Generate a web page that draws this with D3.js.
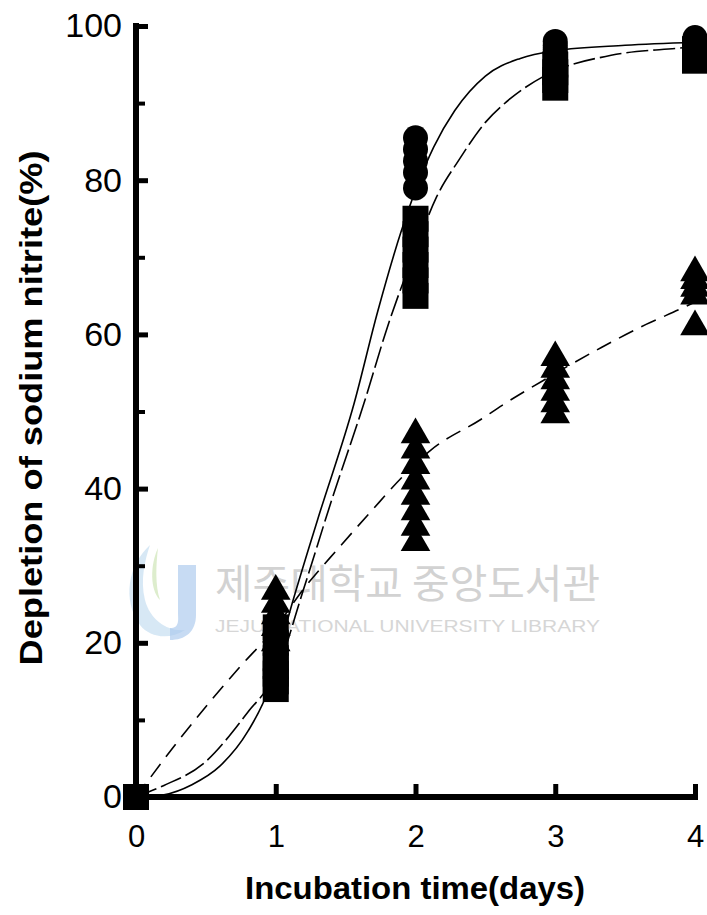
<!DOCTYPE html>
<html>
<head>
<meta charset="utf-8">
<script src="https://cdn.jsdelivr.net/npm/d3@7"></script>
<style>
  html, body { margin: 0; padding: 0; background: #fff; }
  svg { display: block; }
</style>
</head>
<body>
<svg id="chart" width="707" height="915"></svg>
<script>
// ---------- data ----------
const xTicks = [0, 1, 2, 3, 4];
const yTicks = [0, 20, 40, 60, 80, 100];
const yMinorTicks = [10, 30, 50, 70, 90];
const xTitle = "Incubation time(days)";
const yTitle = "Depletion of sodium nitrite(%)";

// replicate observations: [day, value]
const circlePoints = [
  [0, 0],
  [1, 19], [1, 21],
  [2, 85.5], [2, 84], [2, 82.5], [2, 81], [2, 79],
  [3, 98], [3, 97.5], [3, 97], [3, 96.5],
  [4, 98.5], [4, 98], [4, 97.5]
];
const squarePoints = [
  [0, 0],
  [1, 14], [1, 15], [1, 16], [1, 17], [1, 18], [1, 20], [1, 22],
  [2, 65], [2, 67], [2, 69], [2, 71], [2, 73], [2, 75],
  [3, 92], [3, 93], [3, 94], [3, 95],
  [4, 95.5], [4, 96], [4, 97]
];
const trianglePoints = [
  [1, 26.7], [1, 25], [1, 23.5], [1, 22], [1, 20],
  [2, 47], [2, 45], [2, 43], [2, 41], [2, 39], [2, 37], [2, 35], [2, 33],
  [3, 57], [3, 55.5], [3, 54], [3, 52.5], [3, 51], [3, 49.6],
  [4, 68], [4, 67], [4, 66], [4, 65], [4, 61]
];

// fitted curves: [day, value]
const solidCurve = [
  [0, 0], [0.2, 0.3], [0.4, 1.6], [0.6, 4], [0.8, 8.5], [0.95, 14], [1.1, 24],
  [1.3, 36], [1.56, 51], [1.73, 63], [1.9, 73.5], [2.13, 84.3], [2.28, 89],
  [2.5, 93.5], [2.75, 95.8], [3, 96.8], [3.5, 97.5], [4, 97.9]
];
const squareCurve = [
  [0, 0], [0.2, 1.5], [0.48, 4.3], [0.8, 11], [1, 16], [1.2, 27], [1.4, 38.5],
  [1.63, 51], [1.8, 61], [2, 71], [2.15, 77.8], [2.31, 82.6], [2.5, 87.5],
  [2.68, 90.6], [2.93, 93.6], [3.4, 96.2], [3.87, 97.1], [4, 97.3]
];
const triangleCurve = [
  [0, 0], [0.29, 7], [0.75, 17], [1, 22], [1.2, 27], [1.45, 32.3], [1.68, 37],
  [1.9, 41.4], [2.11, 45], [2.47, 49], [2.62, 50.8], [2.94, 54.3], [3.33, 58.3],
  [3.65, 61.3], [3.92, 63.5], [4, 64.2]
];

// watermark text
const watermarkKo = "제주대학교 중앙도서관";
const watermarkEn = "JEJU NATIONAL UNIVERSITY LIBRARY";

// ---------- drawing ----------
const svg = d3.select("#chart");
const FONT = "'Liberation Sans', Arial, Helvetica, sans-serif";

const x = d3.scaleLinear().domain([0, 4]).range([136, 695]);
const y = d3.scaleLinear().domain([0, 100]).range([797, 26]);

// watermark (behind everything)
const wm = svg.append("g").attr("class", "watermark");
wm.append("path")
  .attr("d", "M150,545 C128,565 122,600 140,625 C150,638 170,640 185,630 C168,632 150,620 145,600 C140,580 145,560 150,545 Z")
  .attr("fill", "#bcd9ee").attr("opacity", 0.6);
wm.append("path")
  .attr("d", "M158,548 C150,565 150,590 160,600 C155,585 156,565 158,548 Z")
  .attr("fill", "#cfe6b8").attr("opacity", 0.7);
wm.append("path")
  .attr("d", "M178,565 L196,565 L196,615 C196,632 185,640 170,640 L170,628 C180,628 178,620 178,612 Z")
  .attr("fill", "#a9c8ec").attr("opacity", 0.65);
wm.append("text")
  .attr("x", 215).attr("y", 598)
  .attr("font-family", "'Noto Sans CJK KR', sans-serif")
  .attr("font-size", 40)
  .attr("textLength", 385).attr("lengthAdjust", "spacingAndGlyphs")
  .attr("fill", "#d2d2d2")
  .text(watermarkKo);
wm.append("text")
  .attr("x", 215).attr("y", 632)
  .attr("font-family", FONT)
  .attr("font-size", 17)
  .attr("textLength", 385).attr("lengthAdjust", "spacingAndGlyphs")
  .attr("fill", "#d6d6d6")
  .text(watermarkEn);

// axes
const yAxis = d3.axisLeft(y).tickValues(yTicks).tickSize(-12).tickSizeOuter(0).tickPadding(14)
  .tickFormat(d3.format("d"));
const gy = svg.append("g").attr("transform", "translate(136,0)").call(yAxis);
gy.select(".domain").attr("stroke", "#000").attr("stroke-width", 6)
  .attr("d", `M0,${y(100) - 3}V${y(0) + 4}`);
gy.selectAll(".tick line").attr("stroke", "#000").attr("stroke-width", 5);
gy.selectAll(".tick text").attr("font-family", FONT).attr("font-size", 34).attr("fill", "#000");

const yMinor = d3.axisLeft(y).tickValues(yMinorTicks).tickSize(-9).tickSizeOuter(0).tickFormat("");
const gym = svg.append("g").attr("transform", "translate(136,0)").call(yMinor);
gym.select(".domain").remove();
gym.selectAll(".tick line").attr("stroke", "#000").attr("stroke-width", 4);

const xAxis = d3.axisBottom(x).tickValues(xTicks).tickSize(-13).tickSizeOuter(0).tickPadding(28)
  .tickFormat(d3.format("d"));
const gx = svg.append("g").attr("transform", "translate(0,797)").call(xAxis);
gx.select(".domain").attr("stroke", "#000").attr("stroke-width", 6)
  .attr("d", `M${x(0) - 3},0H${x(4) + 3}`);
gx.selectAll(".tick line").attr("stroke", "#000").attr("stroke-width", 5);
gx.selectAll(".tick").filter(d => d === 0).select("line").remove();
gx.selectAll(".tick text").attr("font-family", FONT).attr("font-size", 31).attr("fill", "#000");

// axis titles
svg.append("text")
  .attr("x", 415).attr("y", 899)
  .attr("text-anchor", "middle")
  .attr("font-family", FONT).attr("font-weight", "bold").attr("font-size", 31)
  .attr("textLength", 340).attr("lengthAdjust", "spacingAndGlyphs")
  .text(xTitle);
svg.append("text")
  .attr("transform", "translate(42,408) rotate(-90)")
  .attr("text-anchor", "middle")
  .attr("font-family", FONT).attr("font-weight", "bold").attr("font-size", 31)
  .attr("textLength", 515).attr("lengthAdjust", "spacingAndGlyphs")
  .text(yTitle);

// curves
const line = d3.line().x(d => x(d[0])).y(d => y(d[1])).curve(d3.curveMonotoneX);
const curves = svg.append("g").attr("fill", "none").attr("stroke", "#000").attr("stroke-width", 1.6);
curves.append("path").attr("d", line(solidCurve));
curves.append("path").attr("d", line(squareCurve)).attr("stroke-dasharray", "22,5");
curves.append("path").attr("d", line(triangleCurve)).attr("stroke-dasharray", "16,9");

// markers
const marks = svg.append("g");
marks.selectAll("circle.c").data(circlePoints).join("circle")
  .attr("class", "c")
  .attr("cx", d => x(d[0])).attr("cy", d => y(d[1])).attr("r", 12.5)
  .attr("fill", "#000");
const sq = 26;
marks.selectAll("rect.s").data(squarePoints).join("rect")
  .attr("class", "s")
  .attr("x", d => x(d[0]) - sq / 2).attr("y", d => y(d[1]) - sq / 2)
  .attr("width", sq).attr("height", sq)
  .attr("fill", "#000");
const tri = d3.symbol().type(d3.symbolTriangle).size(380);
marks.selectAll("path.t").data(trianglePoints).join("path")
  .attr("class", "t")
  .attr("transform", d => `translate(${x(d[0])},${y(d[1])})`)
  .attr("d", tri)
  .attr("fill", "#000");
</script>
</body>
</html>
